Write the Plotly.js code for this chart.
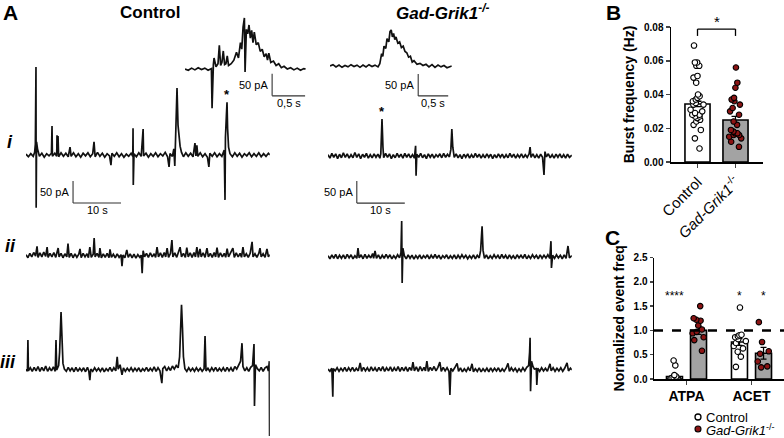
<!DOCTYPE html>
<html><head><meta charset="utf-8">
<script src="https://cdn.plot.ly/plotly-3.0.1.min.js"></script>
<style>html,body{margin:0;padding:0;background:#fff}#chart{width:784px;height:438px}</style>
</head><body><div id="chart"></div>
<script>
// ================= DATA =================
// Panel A current traces: [time (s), current (pA)]
const ctrlTraceI = [[0,2],[0.5,-4],[1,3],[1.5,-3],[1.8,6],[1.95,25],[2.08,200],[2.12,-120],[2.2,30],[2.4,14],[2.8,-3],[3.3,4],[3.8,-5],[4.3,3],[4.8,-2],[5.3,4],[5.42,66],[5.5,-3],[6.0,4],[6.4,-3],[6.46,45],[6.55,2],[6.67,43],[6.8,-4],[7.3,5],[7.8,-3],[8.3,4],[8.8,-4],[9.17,18],[9.4,-3],[9.9,5],[10.4,-4],[10.9,3],[11.4,-5],[11.9,4],[12.4,-2],[12.9,5],[13.4,-4],[13.9,3],[14.17,30],[14.4,-4],[14.9,6],[15.4,-3],[15.9,4],[16.4,-5],[16.9,3],[17.4,-2],[17.7,-23],[17.9,4],[18.4,-3],[18.9,5],[19.4,-4],[19.9,3],[20.4,-5],[20.9,2],[21.4,-3],[21.9,4],[22.25,-3],[22.3,61],[22.35,-68],[22.5,3],[23.0,-4],[23.5,5],[24.0,-3],[24.4,59],[24.5,-2],[25.0,4],[25.5,-5],[26.0,3],[26.5,-3],[27.0,5],[27.5,-4],[28.0,3],[28.5,-2],[29.0,6],[29.5,-4],[29.8,-27],[30.0,3],[30.5,-3],[30.8,14],[31.0,-25],[31.1,20],[31.25,80],[31.46,152],[31.67,68],[31.9,30],[32.1,20],[32.4,6],[32.8,-4],[33.3,5],[33.8,-3],[34.3,4],[34.8,-4],[35.2,27],[35.4,-2],[35.6,22],[35.8,-3],[36.3,5],[36.8,-4],[37.3,3],[37.8,-5],[38.1,-27],[38.3,4],[38.8,-3],[39.3,5],[39.8,-4],[40.3,3],[40.8,-3],[41.3,11],[41.46,-102],[41.55,40],[41.75,90],[41.88,120],[42.0,60],[42.2,18],[42.5,3],[43.0,-4],[43.5,5],[44.0,-3],[44.5,4],[45.0,-5],[45.5,3],[46.0,-2],[46.5,5],[47.0,-4],[47.5,3],[48.0,-3],[48.5,5],[49.0,-4],[49.5,3],[50.0,-3],[50.5,4],[50.8,0]];
const ctrlTraceII = [[0,3],[0.4,-4],[0.8,6],[1.2,-2],[1.6,8],[2.0,0],[2.3,22],[2.5,-3],[2.9,7],[3.3,-2],[3.7,9],[4.1,-1],[4.4,20],[4.6,-3],[5.0,6],[5.4,-2],[5.8,8],[6.2,-3],[6.7,18],[6.9,-2],[7.3,6],[7.7,-4],[8.1,5],[8.5,-2],[8.75,28],[9.0,-3],[9.4,6],[9.8,-4],[10.2,5],[10.6,-3],[11.0,4],[11.25,16],[11.5,-4],[11.9,6],[12.3,-2],[12.7,5],[13.0,-4],[13.3,20],[13.6,-3],[14.0,4],[14.2,41],[14.4,-2],[14.8,6],[15.2,-3],[15.4,18],[15.7,-4],[16.1,5],[16.5,-3],[16.9,6],[17.3,-4],[17.5,15],[17.8,-3],[18.2,4],[18.6,-4],[19.0,5],[19.4,-3],[19.8,3],[20.0,-23],[20.2,2],[20.6,-4],[21.0,14],[21.3,-3],[21.7,5],[22.1,-4],[22.5,4],[22.9,-5],[23.3,3],[23.7,-3],[24.0,2],[24.2,-39],[24.4,12],[24.7,-2],[25.1,6],[25.5,-3],[25.9,7],[26.3,-2],[26.7,5],[27.0,-3],[27.3,20],[27.6,-2],[28.0,7],[28.4,-3],[28.8,8],[29.1,-2],[29.4,18],[29.7,-3],[30.1,6],[30.4,36],[30.6,-2],[31.0,7],[31.4,-3],[31.8,8],[32.1,20],[32.4,-2],[32.8,6],[33.2,-3],[33.5,19],[33.8,-2],[34.2,7],[34.6,-3],[35.0,8],[35.3,-2],[35.6,20],[35.9,-3],[36.25,16],[36.5,-2],[36.9,7],[37.3,-3],[37.7,18],[38.0,-2],[38.4,6],[38.8,-3],[39.2,8],[39.5,-2],[39.8,19],[40.1,-3],[40.5,7],[40.9,-2],[41.3,6],[41.6,-3],[41.9,17],[42.2,-2],[42.6,6],[43.1,18],[43.4,-3],[43.8,7],[44.2,-2],[44.6,6],[44.9,-3],[45.2,20],[45.5,-2],[45.9,5],[46.3,-3],[46.7,6],[47.1,32],[47.3,-2],[47.7,5],[48.1,-3],[48.5,6],[48.75,18],[49.0,-2],[49.4,5],[49.8,-3],[50.2,16],[50.5,-2],[50.8,3]];
const ctrlTraceIII = [[0,2],[0.3,-3],[0.4,68],[0.5,-2],[0.9,5],[1.3,-3],[1.7,6],[2.1,-2],[2.5,8],[2.9,-3],[3.3,6],[3.7,-2],[4.1,9],[4.5,-3],[4.9,5],[5.3,-2],[5.7,7],[6.1,-3],[6.25,68],[6.4,0],[6.8,10],[7.0,40],[7.3,132],[7.5,60],[7.7,15],[8.0,2],[8.4,-3],[8.8,6],[9.2,-2],[9.6,5],[10.0,-4],[10.4,6],[10.8,-3],[11.2,4],[11.6,-2],[12.0,5],[12.4,-4],[12.8,6],[13.1,-3],[13.3,-23],[13.5,2],[13.9,-3],[14.3,5],[14.7,-2],[15.1,4],[15.5,-3],[15.9,5],[16.3,-4],[16.7,3],[17.1,-2],[17.5,6],[17.9,-3],[18.3,5],[18.7,-2],[19.0,30],[19.2,2],[19.6,12],[20.0,-11],[20.3,5],[20.7,-3],[21.1,4],[21.5,-2],[21.9,5],[22.3,-3],[22.7,4],[23.1,-2],[23.5,5],[23.9,-4],[24.3,3],[24.7,-2],[25.1,6],[25.5,-3],[25.9,4],[26.3,-2],[26.7,7],[27.1,-3],[27.5,5],[27.9,-2],[28.3,-30],[28.5,3],[28.9,8],[29.3,-2],[29.7,6],[30.1,-1],[30.5,9],[30.9,2],[31.3,10],[31.7,5],[32.0,30],[32.2,90],[32.4,148],[32.6,95],[32.8,30],[33.1,3],[33.5,-3],[33.9,5],[34.3,-2],[34.7,4],[35.1,-3],[35.5,5],[35.9,-2],[36.3,4],[36.7,-3],[37.1,3],[37.3,77],[37.5,-2],[37.9,4],[38.3,-3],[38.7,5],[39.1,-2],[39.5,6],[39.9,-3],[40.3,4],[40.7,-2],[41.1,5],[41.5,-3],[41.9,6],[42.3,-2],[42.7,5],[43.1,-3],[43.5,8],[43.9,2],[44.3,10],[44.7,20],[45.0,61],[45.2,8],[45.6,-2],[46.0,5],[46.4,-3],[46.8,6],[47.2,10],[47.5,59],[47.6,-82],[47.8,12],[48.2,3],[48.6,-2],[49.0,6],[49.4,-3],[49.8,5],[50.2,8],[50.5,-2],[50.7,20],[50.75,-150],[50.8,0]];
const gadTraceI = [[0,3],[0.4,-5],[0.8,6],[1.2,-3],[1.6,5],[2.0,-6],[2.4,4],[2.8,-4],[3.2,7],[3.6,-3],[4.0,5],[4.4,-5],[4.8,3],[5.2,-4],[5.6,8],[6.0,-3],[6.4,5],[6.8,-6],[7.2,4],[7.6,-3],[8.0,6],[8.4,-5],[8.8,3],[9.2,-4],[9.6,5],[10.0,-3],[10.4,4],[10.8,-5],[11.0,5],[11.25,84],[11.45,20],[11.6,-4],[12.0,6],[12.4,-3],[12.8,5],[13.2,-6],[13.6,3],[14.0,-4],[14.4,6],[14.8,-3],[15.2,4],[15.6,-5],[16.0,6],[16.4,-3],[16.8,5],[17.2,-4],[17.6,3],[18.0,-5],[18.25,23],[18.35,-45],[18.5,4],[18.9,-3],[19.3,6],[19.7,-4],[20.1,3],[20.5,-6],[20.9,5],[21.3,-3],[21.7,4],[22.1,-5],[22.5,3],[22.9,-2],[23.3,5],[23.7,-4],[24.1,6],[24.5,-3],[24.9,4],[25.3,-2],[25.6,15],[25.8,61],[26.0,20],[26.3,-3],[26.7,5],[27.1,-4],[27.5,3],[27.9,-6],[28.3,4],[28.7,-3],[29.1,5],[29.5,-5],[29.9,3],[30.3,-4],[30.7,6],[31.1,-3],[31.5,4],[31.9,-5],[32.3,3],[32.7,-4],[33.1,5],[33.5,-3],[33.9,4],[34.3,-6],[34.7,3],[35.1,-4],[35.5,5],[35.9,-3],[36.3,4],[36.7,-5],[37.1,3],[37.5,-4],[37.9,6],[38.3,-3],[38.7,4],[39.1,-5],[39.5,3],[39.9,-3],[40.3,5],[40.7,-4],[41.1,3],[41.5,-3],[41.9,5],[42.1,20],[42.3,-3],[42.7,5],[43.1,-4],[43.5,3],[43.9,-5],[44.3,4],[44.7,-3],[45.0,-43],[45.2,10],[45.5,-2],[45.9,5],[46.3,-4],[46.7,3],[47.1,-5],[47.5,4],[47.9,-3],[48.3,5],[48.7,-4],[49.1,3],[49.5,-5],[49.9,4],[50.3,-3],[50.8,2]];
const gadTraceII = [[0,3],[0.4,-4],[0.8,5],[1.2,-3],[1.6,6],[2.0,-4],[2.4,4],[2.8,-3],[3.2,5],[3.6,-4],[4.0,6],[4.4,-2],[4.8,5],[5.2,-4],[5.6,3],[6.0,-3],[6.25,20],[6.5,-2],[6.9,5],[7.3,-4],[7.7,6],[8.1,-3],[8.5,4],[8.9,-2],[9.3,8],[9.5,-3],[9.8,14],[10.1,-3],[10.5,5],[10.9,-4],[11.3,4],[11.7,-3],[12.1,6],[12.5,-2],[12.9,5],[13.3,-4],[13.7,3],[14.1,-3],[14.5,5],[14.9,-2],[15.2,10],[15.35,82],[15.45,-59],[15.6,20],[15.9,3],[16.3,-4],[16.7,5],[17.1,-3],[17.5,4],[17.9,-5],[18.3,3],[18.7,-3],[19.1,5],[19.5,-4],[19.9,3],[20.3,-2],[20.7,5],[21.1,-4],[21.5,4],[21.9,-3],[22.3,6],[22.7,-3],[23.1,4],[23.5,-5],[23.9,3],[24.3,-2],[24.7,5],[25.1,-4],[25.5,3],[25.9,-3],[26.3,5],[26.7,-4],[27.1,4],[27.5,-3],[27.9,5],[28.3,-2],[28.7,4],[29.1,-4],[29.5,3],[29.9,-3],[30.3,5],[30.7,-4],[31.1,4],[31.5,-2],[31.8,15],[32.1,70],[32.3,15],[32.6,-3],[33.0,5],[33.4,-4],[33.8,3],[34.2,-3],[34.6,5],[35.0,-2],[35.4,4],[35.8,-4],[36.2,6],[36.6,-3],[37.0,4],[37.4,-4],[37.8,5],[38.2,-3],[38.6,3],[39.0,-4],[39.4,5],[39.8,-2],[40.2,4],[40.6,-3],[41.0,6],[41.4,-4],[41.8,3],[42.2,-3],[42.6,5],[43.0,-2],[43.4,4],[43.8,-4],[44.2,5],[44.6,-3],[45.0,4],[45.4,-2],[45.8,5],[46.2,-3],[46.45,36],[46.55,-25],[46.8,4],[47.2,-3],[47.6,5],[48.0,-2],[48.4,4],[48.8,-4],[49.2,5],[49.6,-3],[50.0,25],[50.3,-2],[50.8,3]];
const gadTraceIII = [[0,2],[0.4,-3],[0.8,4],[1.0,-61],[1.1,3],[1.5,-2],[1.9,5],[2.3,-3],[2.7,4],[3.1,-2],[3.5,6],[3.9,-3],[4.3,5],[4.7,-2],[5.1,6],[5.5,-3],[5.9,4],[6.3,-2],[6.7,16],[7.0,-3],[7.4,6],[7.8,-2],[8.2,5],[8.6,-3],[9.0,7],[9.4,-2],[9.8,5],[10.2,-3],[10.6,6],[11.0,-2],[11.4,8],[11.8,-3],[12.2,5],[12.6,-2],[13.0,7],[13.4,-3],[13.8,5],[14.2,-2],[14.6,8],[15.0,-3],[15.4,6],[15.8,-2],[16.2,7],[16.6,-3],[17.0,6],[17.4,-1],[17.7,18],[18.0,-2],[18.4,7],[18.8,-3],[19.2,8],[19.6,-2],[20.0,6],[20.3,-2],[20.6,20],[20.9,-3],[21.3,6],[21.7,-1],[22.1,8],[22.5,-2],[22.9,6],[23.3,18],[23.6,-3],[24.0,6],[24.4,-2],[24.8,5],[25.2,-3],[25.4,-57],[25.6,4],[26.0,-2],[26.4,5],[26.9,15],[27.2,-3],[27.6,5],[28.0,-4],[28.4,3],[28.8,-3],[29.2,5],[29.6,-2],[30.0,14],[30.3,-4],[30.7,3],[31.1,-3],[31.5,5],[31.9,-4],[32.3,3],[32.7,-3],[33.1,4],[33.5,-4],[33.9,5],[34.3,-3],[34.7,4],[35.1,-2],[35.5,5],[35.9,-4],[36.3,3],[36.7,-3],[37.1,4],[37.5,15],[37.8,-3],[38.2,5],[38.6,-2],[39.0,4],[39.4,-4],[39.8,3],[40.2,-3],[40.6,5],[41.0,-2],[41.4,6],[41.8,10],[42.0,40],[42.1,73],[42.2,-48],[42.4,20],[42.7,8],[43.0,2],[43.4,3],[43.5,-34],[43.7,4],[44.1,-3],[44.5,5],[44.9,-2],[45.3,4],[45.7,-3],[46.25,14],[46.5,-2],[46.9,5],[47.3,-3],[47.7,4],[48.1,-2],[48.5,5],[48.9,-3],[49.3,4],[49.8,16],[50.1,-2],[50.5,4],[50.8,0]];
// Expanded bursts (insets)
const ctrlInset = [[0,0],[0.05,-3],[0.1,2],[0.15,-2],[0.2,3],[0.25,-1],[0.3,2],[0.35,-3],[0.4,1],[0.41,-89],[0.43,10],[0.44,25],[0.47,5],[0.5,12],[0.52,54],[0.54,8],[0.56,15],[0.58,41],[0.6,10],[0.62,12],[0.64,30],[0.66,8],[0.7,12],[0.74,20],[0.78,38],[0.81,25],[0.84,60],[0.86,45],[0.88,95],[0.9,116],[0.91,-7],[0.93,90],[0.95,80],[0.97,100],[0.99,70],[1.01,88],[1.03,60],[1.05,84],[1.08,55],[1.11,60],[1.14,40],[1.17,45],[1.2,28],[1.23,35],[1.25,20],[1.27,36],[1.3,15],[1.34,18],[1.38,8],[1.42,12],[1.46,3],[1.5,6],[1.55,0],[1.6,3],[1.65,-2],[1.7,2],[1.75,-3],[1.8,1],[1.83,0]];
const gadInset = [[0,0],[0.05,3],[0.1,-2],[0.15,2],[0.2,-3],[0.25,1],[0.3,-2],[0.35,3],[0.4,-1],[0.45,2],[0.5,-3],[0.55,2],[0.6,-2],[0.65,3],[0.7,-1],[0.75,2],[0.8,-2],[0.83,5],[0.86,28],[0.88,22],[0.9,45],[0.93,40],[0.95,62],[0.98,55],[1.0,78],[1.02,82],[1.04,66],[1.06,74],[1.08,60],[1.1,66],[1.13,52],[1.16,55],[1.19,42],[1.22,45],[1.25,33],[1.28,30],[1.31,20],[1.34,22],[1.37,9],[1.4,12],[1.45,4],[1.5,6],[1.55,1],[1.6,4],[1.65,-2],[1.7,3],[1.75,-3],[1.8,2],[1.85,-2],[1.9,1],[1.95,-4],[2.0,-1],[2.03,0]];

// Panel B: burst frequency (Hz)
const burstCategories = ['Control', 'Gad-Grik1'];
const burstTickText = ['Control', '<i>Gad-Grik1</i><sup>-/-</sup>'];
const burstMean = [0.0344, 0.0249];
const burstSem = [0.0016, 0.0021];
const burstCtrl = [0.069, 0.059, 0.059, 0.057, 0.057, 0.051, 0.050, 0.047, 0.040, 0.039, 0.038, 0.037, 0.036, 0.035, 0.034, 0.034, 0.031, 0.030, 0.029, 0.028, 0.028, 0.027, 0.027, 0.026, 0.025, 0.024, 0.022, 0.019, 0.014, 0.008];
const burstGad = [0.056, 0.047, 0.044, 0.038, 0.037, 0.036, 0.034, 0.032, 0.030, 0.028, 0.024, 0.022, 0.019, 0.018, 0.017, 0.017, 0.016, 0.016, 0.015, 0.014, 0.012, 0.009];
const burstSig = '*';

// Panel C: normalized event frequency
const drugCategories = ['ATPA', 'ACET'];
const normCtrlMean = [0.05, 0.76];
const normCtrlSem = [0.04, 0.07];
const normGadMean = [1.0, 0.53];
const normGadSem = [0.08, 0.12];
const normCtrlATPA = [0.38, 0.28, 0.08, 0.05, 0.03, 0.02, 0.01, 0.01, 0.0];
const normCtrlACET = [1.47, 0.91, 0.90, 0.88, 0.86, 0.82, 0.78, 0.74, 0.68, 0.63, 0.56, 0.46, 0.25];
const normGadATPA = [1.50, 1.25, 1.22, 1.20, 1.10, 1.02, 0.97, 0.94, 0.86, 0.80, 0.58];
const normGadACET = [1.17, 0.76, 0.57, 0.52, 0.36, 0.26, 0.24];
const normSigCtrl = ['****', '*'];
const normSigGad = ['', '*'];
const normReference = 1.0;

// ================= LAYOUT HELPERS =================
const W = 784, H = 438;
const K = 50 / 22;              // pA per pixel in panel A
const FONT = 'Liberation Sans, Arial, Helvetica, sans-serif';
const RED = '#8c1414', GRAY = '#a3a3a3', INK = '#111';
const hiddenAx = {showline:false, showticklabels:false, ticks:'', showgrid:false, zeroline:false, fixedrange:true};
const px = x => x / W, py = y => 1 - y / H;

const tracePanels = [
  {data: ctrlTraceI,   x0: 26,  pxs: 4.8, dur: 50.8, base: 155, top: 50,  bot: 215},
  {data: ctrlTraceII,  x0: 26,  pxs: 4.8, dur: 50.8, base: 256, top: 215, bot: 300},
  {data: ctrlTraceIII, x0: 26,  pxs: 4.8, dur: 50.8, base: 370, top: 290, bot: 438},
  {data: gadTraceI,    x0: 328, pxs: 4.8, dur: 50.8, base: 156, top: 50,  bot: 215},
  {data: gadTraceII,   x0: 328, pxs: 4.8, dur: 50.8, base: 257, top: 215, bot: 300},
  {data: gadTraceIII,  x0: 328, pxs: 4.8, dur: 50.8, base: 370, top: 290, bot: 438},
  {data: ctrlInset,    x0: 185, pxs: 66,  dur: 1.83, base: 69,  top: 5,   bot: 115},
  {data: gadInset,     x0: 330, pxs: 60,  dur: 2.03, base: 66,  top: 5,   bot: 115},
];

const layout = {
  width: W, height: H, margin: {l:0, r:0, t:0, b:0},
  paper_bgcolor: '#fff', plot_bgcolor: 'rgba(0,0,0,0)',
  showlegend: false, font: {family: FONT, color: '#000'},
  barmode: 'group', bargap: 0.26, bargroupgap: 0.335,
  boxmode: 'group', boxgap: 0.26, boxgroupgap: 0.335,
  annotations: [], shapes: []
};
const traces = [];

tracePanels.forEach((p, i) => {
  const n = i + 1, sfx = n === 1 ? '' : String(n);
  layout['xaxis' + sfx] = Object.assign({}, hiddenAx, {domain: [px(p.x0), px(p.x0 + p.dur * p.pxs)], range: [0, p.dur], anchor: 'y' + sfx});
  layout['yaxis' + sfx] = Object.assign({}, hiddenAx, {domain: [py(p.bot), py(p.top)], range: [(p.base - p.bot) * K, (p.base - p.top) * K], anchor: 'x' + sfx});
  traces.push({type: 'scatter', mode: 'lines', x: p.data.map(d => d[0]), y: p.data.map(d => d[1]),
    xaxis: 'x' + sfx, yaxis: 'y' + sfx, line: {color: INK, width: 1.7, shape: 'linear'}, hoverinfo: 'skip'});
});

// scale bars: [axis suffix, t start, y bottom, seconds, label]
const scaleBars = [
  ['', 9.8, -109, 10, '10 s'],
  ['4', 6.0, -107, 10, '10 s'],
  ['7', 1.32, -61, 0.5, '0,5 s'],
  ['8', 1.47, -68, 0.5, '0,5 s'],
];
scaleBars.forEach(([s, t, yb, sec, lab]) => {
  const xr = 'x' + s, yr = 'y' + s;
  layout.shapes.push({type:'line', xref:xr, yref:yr, x0:t, x1:t, y0:yb, y1:yb + 50, line:{color:'#333', width:1.1}});
  layout.shapes.push({type:'line', xref:xr, yref:yr, x0:t, x1:t + sec, y0:yb, y1:yb, line:{color:'#333', width:1.1}});
  layout.annotations.push({xref:xr, yref:yr, x:t, y:yb + 25, text:'50 pA', showarrow:false, xanchor:'right', yanchor:'middle', xshift:-2, font:{size:11}});
  layout.annotations.push({xref:xr, yref:yr, x:t + sec/2, y:yb, text:lab, showarrow:false, xanchor:'center', yanchor:'top', yshift:1, font:{size:11}});
});
// asterisks over the expanded bursts
layout.annotations.push({xref:'x', yref:'y', x:41.88, y:120, text:'<b>*</b>', showarrow:false, yanchor:'bottom', yshift:-2, font:{size:13}});
layout.annotations.push({xref:'x4', yref:'y4', x:11.25, y:84, text:'<b>*</b>', showarrow:false, yanchor:'bottom', yshift:-2, font:{size:13}});

// ---- Panel B ----
const pxPerCatB = 38;
layout.xaxis9 = {domain:[px(671), px(763)], range:[-26.5/pxPerCatB, (92-26.5)/pxPerCatB], type:'category',
  categoryarray: burstCategories, tickmode:'array', tickvals: burstCategories, ticktext: burstTickText, tickangle:-45,
  tickfont:{size:15, color:'#000'}, showline:true, linecolor:'#000', linewidth:1.5, ticks:'outside', ticklen:4, tickwidth:1.5,
  showgrid:false, zeroline:false, anchor:'y9', fixedrange:true, automargin:false};
layout.yaxis9 = {domain:[py(162), py(27)], range:[0, 0.08], tickvals:[0, 0.02, 0.04, 0.06, 0.08], tickformat:'.2f',
  tickfont:{size:10, weight:'bold', color:'#000'}, showline:true, linecolor:'#000', linewidth:1.5, ticks:'outside', ticklen:4, tickwidth:1.5,
  showgrid:false, zeroline:false, anchor:'x9', fixedrange:true, automargin:false,
  title:{text:'<b>Burst frequency (Hz)</b>', font:{size:14}, standoff:6}};
traces.push({type:'bar', x: burstCategories, y: burstMean, width: 0.66, xaxis:'x9', yaxis:'y9',
  marker:{color:['#ffffff', GRAY], line:{color:'#000', width:1.6}},
  error_y:{type:'data', array: burstSem, visible:true, color:'#000', thickness:1.3, width:4}, hoverinfo:'skip'});
[[burstCtrl, burstCategories[0], '#ffffff'], [burstGad, burstCategories[1], RED]].forEach(([vals, cat, col]) => {
  traces.push({type:'box', x: vals.map(() => cat), y: vals, xaxis:'x9', yaxis:'y9', offsetgroup:'B', alignmentgroup:'B',
    boxpoints:'all', pointpos:0, jitter:0.8, line:{width:0, color:'rgba(0,0,0,0)'}, fillcolor:'rgba(0,0,0,0)', whiskerwidth:0,
    marker:{symbol:'circle', size:5.5, color: col, line:{color:'#000', width:1.1}}, hoverinfo:'skip'});
});
const brTop = 0.0788, brLeg = 0.0747;
layout.shapes.push({type:'line', xref:'x9', yref:'y9', x0:0, x1:1, y0:brTop, y1:brTop, line:{color:'#000', width:1.3}});
layout.shapes.push({type:'line', xref:'x9', yref:'y9', x0:0, x1:0, y0:brTop, y1:brLeg, line:{color:'#000', width:1.3}});
layout.shapes.push({type:'line', xref:'x9', yref:'y9', x0:1, x1:1, y0:brTop, y1:brLeg, line:{color:'#000', width:1.3}});
layout.annotations.push({xref:'x9', yref:'y9', x:0.5, y:brTop, text:burstSig, showarrow:false, yanchor:'bottom', yshift:-3, font:{size:15}});

// ---- Panel C ----
layout.xaxis10 = {domain:[px(654), 1], range:[-0.5, 1.5], type:'category', categoryarray: drugCategories,
  tickfont:{size:14, weight:'bold', color:'#000'}, showline:true, linecolor:'#000', linewidth:1.5, ticks:'outside', ticklen:4, tickwidth:1.5,
  showgrid:false, zeroline:false, anchor:'y10', fixedrange:true, automargin:false};
layout.yaxis10 = {domain:[py(379), py(257.5)], range:[0, 2.5], dtick:0.5, tickformat:'.1f',
  tickfont:{size:10, weight:'bold', color:'#000'}, showline:true, linecolor:'#000', linewidth:1.5, ticks:'outside', ticklen:3, tickwidth:1.5,
  showgrid:false, zeroline:false, anchor:'x10', fixedrange:true, automargin:false,
  title:{text:'<b>Normalized event freq</b>', font:{size:14}, standoff:5}};
traces.push({type:'bar', x: drugCategories, y: normCtrlMean, xaxis:'x10', yaxis:'y10', offsetgroup:'c1',
  marker:{color:'#ffffff', line:{color:'#000', width:1.6}},
  error_y:{type:'data', array: normCtrlSem, visible:true, color:'#000', thickness:1.3, width:3}, hoverinfo:'skip'});
traces.push({type:'bar', x: drugCategories, y: normGadMean, xaxis:'x10', yaxis:'y10', offsetgroup:'c2',
  marker:{color: GRAY, line:{color:'#000', width:1.6}},
  error_y:{type:'data', array: normGadSem, visible:true, color:'#000', thickness:1.3, width:3}, hoverinfo:'skip'});
[[normCtrlATPA, normCtrlACET, '#ffffff', 'c1'], [normGadATPA, normGadACET, RED, 'c2']].forEach(([a, b, col, g]) => {
  traces.push({type:'box', x: a.map(() => drugCategories[0]).concat(b.map(() => drugCategories[1])), y: a.concat(b),
    xaxis:'x10', yaxis:'y10', offsetgroup:g,
    boxpoints:'all', pointpos:0, jitter:0.9, line:{width:0, color:'rgba(0,0,0,0)'}, fillcolor:'rgba(0,0,0,0)', whiskerwidth:0,
    marker:{symbol:'circle', size:5.5, color: col, line:{color:'#000', width:1.1}}, hoverinfo:'skip'});
});
layout.shapes.push({type:'line', xref:'x10 domain', yref:'y10', x0:0, x1:1, y0:normReference, y1:normReference,
  line:{color:'#000', width:2.5, dash:'dash'}});
const offC = 12; // px offset of each bar from category centre
drugCategories.forEach((c, i) => {
  [[normSigCtrl[i], -offC], [normSigGad[i], offC]].forEach(([txt, sh]) => {
    if (txt) layout.annotations.push({xref:'x10', yref:'y10', x:c, y:1.71, xshift:sh, text:txt, showarrow:false, font:{size:12}});
  });
});
// legend for C
layout.shapes.push({type:'circle', xref:'paper', yref:'paper', xsizemode:'pixel', ysizemode:'pixel', xanchor:px(698), yanchor:py(417),
  x0:-3, x1:3, y0:-3, y1:3, fillcolor:'#fff', line:{color:'#000', width:1.3}});
layout.shapes.push({type:'circle', xref:'paper', yref:'paper', xsizemode:'pixel', ysizemode:'pixel', xanchor:px(698), yanchor:py(429),
  x0:-3, x1:3, y0:-3, y1:3, fillcolor:RED, line:{color:'#000', width:1.1}});

// ---- Text labels ----
function ann(text, x, y, size, extra) {
  layout.annotations.push(Object.assign({xref:'paper', yref:'paper', x:px(x), y:py(y), text, showarrow:false,
    xanchor:'center', yanchor:'middle', font:{size}}, extra || {}));
}
ann('<b>A</b>', 10, 12, 21);
ann('<b>B</b>', 613, 12, 21);
ann('<b>C</b>', 612, 237, 21);
ann('<b>Control</b>', 150, 13, 17);
ann('<b><i>Gad-Grik1</i></b><sup><b><i>-/-</i></b></sup>', 442, 12, 17);
ann('<b><i>i</i></b>', 10, 142, 18);
ann('<b><i>ii</i></b>', 10, 246, 18);
ann('<b><i>iii</i></b>', 8, 362, 18);
ann('Control', 704, 417, 13, {xanchor:'left'});
ann('<i>Gad-Grik1</i><sup>-/-</sup>', 704, 430, 13, {xanchor:'left'});

Plotly.newPlot('chart', traces, layout, {displayModeBar:false, staticPlot:true});
</script></body></html>
